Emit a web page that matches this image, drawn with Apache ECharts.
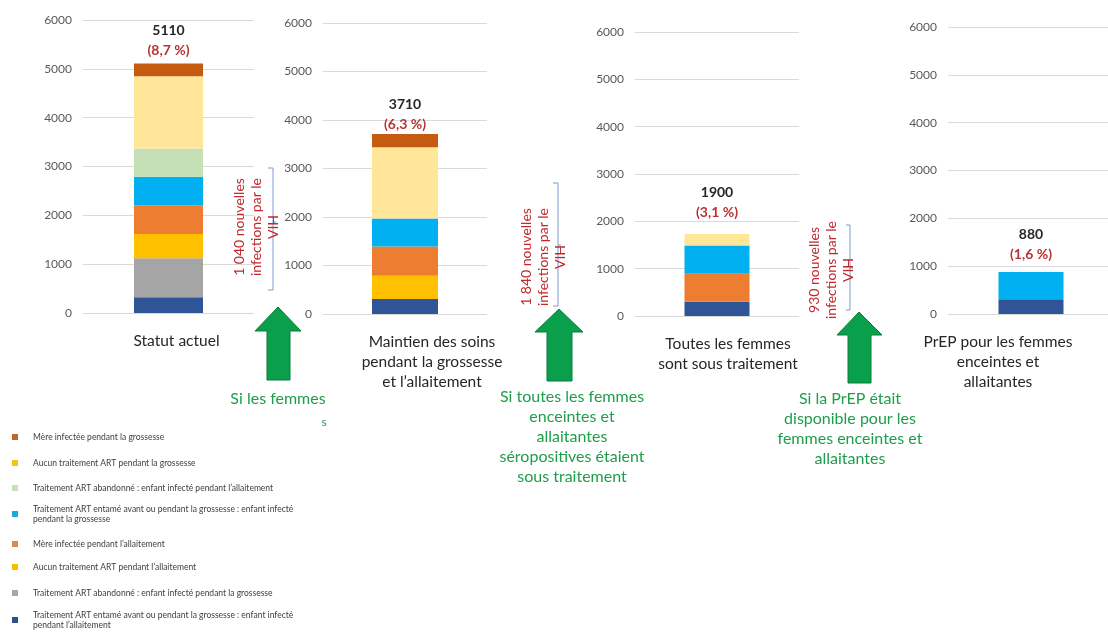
<!DOCTYPE html>
<html><head><meta charset="utf-8">
<script src="https://cdn.jsdelivr.net/npm/echarts@6/dist/echarts.min.js"></script>
<style>html,body{margin:0;padding:0;background:#fff}#c{width:1108px;height:635px}</style>
</head><body><div id="c"></div>
<script>
// ---- Data ----
const categories = [
  'Statut actuel',
  'Maintien des soins\npendant la grossesse\net l\u2019allaitement',
  'Toutes les femmes\nsont sous traitement',
  'PrEP pour les femmes\nenceintes et\nallaitantes'
];
const seriesNames = [
  'M\u00e8re infect\u00e9e pendant la grossesse',
  'Aucun traitement ART pendant la grossesse',
  'Traitement ART abandonn\u00e9 : enfant infect\u00e9 pendant l\u2019allaitement',
  'Traitement ART entam\u00e9 avant ou pendant la grossesse : enfant infect\u00e9 pendant la grossesse',
  'M\u00e8re infect\u00e9e pendant l\u2019allaitement',
  'Aucun traitement ART pendant l\u2019allaitement',
  'Traitement ART abandonn\u00e9 : enfant infect\u00e9 pendant la grossesse',
  'Traitement ART entam\u00e9 avant ou pendant la grossesse : enfant infect\u00e9 pendant l\u2019allaitement'
];
// values per scenario (Statut actuel, Maintien, Toutes sous traitement, PrEP)
const mereGrossesse      = [260, 270, 0, 0];
const aucunArtGrossesse  = [1480, 1470, 240, 0];
const abandonAllait      = [580, 0, 0, 0];
const entameGrossesse    = [590, 580, 600, 570];
const mereAllait         = [580, 600, 590, 0];
const aucunArtAllait     = [500, 480, 0, 0];
const abandonGrossesse   = [800, 0, 0, 0];
const entameAllait       = [320, 310, 300, 310];
const seriesValues = [mereGrossesse, aucunArtGrossesse, abandonAllait, entameGrossesse,
                      mereAllait, aucunArtAllait, abandonGrossesse, entameAllait];
const totalLabels = ['5110', '3710', '1900', '880'];
const pctLabels = ['(8,7 %)', '(6,3 %)', '(3,1 %)', '(1,6 %)'];
const yMin = 0, yMax = 6000, yInterval = 1000;
const annotations = [
  '1 040 nouvelles\ninfections par le\nVIH',
  '1 840 nouvelles\ninfections par le\nVIH',
  '930 nouvelles\ninfections par le\nVIH'
];
const scenarioTexts = [
  'Si les femmes',
  'Si toutes les femmes\nenceintes et\nallaitantes\ns\u00e9ropositives \u00e9taient\nsous traitement',
  'Si la PrEP \u00e9tait\ndisponible pour les\nfemmes enceintes et\nallaitantes'
];

// ---- Styles / layout ----
const FONT = 'Lato';
const colors = ['#C55A11', '#FFE699', '#C5E0B4', '#00B0F0', '#ED7D31', '#FFC000', '#A5A5A5', '#2F5597'];
const legendColors = ['#C0662A', '#F0C419', '#C5E0B4', '#1EA8E0', '#E08A4A', '#F2C200', '#A6A6A6', '#2F4F8F'];
const grids = [
  {left: 83, width: 171, top: 20, height: 293, outerBoundsMode: 'none', containLabel: false},
  {left: 323, width: 164, top: 23, height: 291, outerBoundsMode: 'none', containLabel: false},
  {left: 635, width: 164, top: 32, height: 284, outerBoundsMode: 'none', containLabel: false},
  {left: 948, width: 166, top: 27, height: 287, outerBoundsMode: 'none', containLabel: false}
];
const barWidths = [69, 66, 65, 65];
const catOffsets = [8, 27, 11, -33];
const labelDist = [3, 0, 12, 7];
const legendTops = [432, 458, 483, 499, 539, 562, 588, 605];
const legendWrap = {};
legendWrap[seriesNames[3]] = 'Traitement ART entam\u00e9 avant ou pendant la grossesse : enfant infect\u00e9\npendant la grossesse';
legendWrap[seriesNames[7]] = 'Traitement ART entam\u00e9 avant ou pendant la grossesse : enfant infect\u00e9\npendant l\u2019allaitement';

const xAxes = [], yAxes = [], series = [];
grids.forEach((g, p) => {
  const off = catOffsets[p];
  xAxes.push({
    gridIndex: p, type: 'category', data: [categories[p]],
    axisLine: {show: false}, axisTick: {show: false},
    axisLabel: {interval: 0, color: '#262626', fontSize: 15.5, lineHeight: 20, margin: 18, fontFamily: FONT,
      padding: off >= 0 ? [0, 0, 0, 2 * off] : [0, -2 * off, 0, 0]}
  });
  yAxes.push({
    gridIndex: p, type: 'value', min: yMin, max: yMax, interval: yInterval,
    axisLine: {show: false}, axisTick: {show: false},
    axisLabel: {color: '#595959', fontSize: 12, margin: 11, fontFamily: FONT, formatter: v => String(v)},
    splitLine: {lineStyle: {color: '#D9D9D9', width: 1}}
  });
  let top = -1;
  for (let s = 0; s < seriesValues.length; s++) { if (seriesValues[s][p] > 0) { top = s; break; } }
  for (let s = seriesValues.length - 1; s >= 0; s--) {
    const ser = {
      type: 'bar', name: seriesNames[s], xAxisIndex: p, yAxisIndex: p, stack: 'p' + p,
      barWidth: barWidths[p], itemStyle: {color: colors[s]},
      data: [seriesValues[s][p]], emphasis: {disabled: true}
    };
    if (s === top) {
      ser.label = {
        show: true, position: 'top', distance: labelDist[p],
        formatter: '{a|' + totalLabels[p] + '}\n{b|' + pctLabels[p] + '}',
        rich: {
          a: {fontSize: 14, fontWeight: 'bold', color: '#262626', lineHeight: 20, fontFamily: FONT},
          b: {fontSize: 14, fontWeight: 'bold', color: '#B83232', lineHeight: 20, fontFamily: FONT}
        }
      };
    }
    series.push(ser);
  }
});

const legends = seriesNames.map((n, i) => {
  const two = !!legendWrap[n];
  return {
    data: [{name: n, itemStyle: {color: legendColors[i]}}],
    left: 12, top: legendTops[i], orient: 'vertical', padding: 0,
    itemWidth: 6, itemHeight: 6, icon: 'rect', selectedMode: false,
    formatter: name => legendWrap[name] || name,
    textStyle: {fontSize: 8.5, color: '#404040', fontFamily: FONT, lineHeight: 10,
      padding: two ? [10, 0, 0, 10] : [0, 0, 0, 10]}
  };
});

// ---- Annotations (graphic) ----
const green = '#1E9E4A';
function arrow(tipX, tipY, headL, headR, baseY, shL, shR, bottom) {
  return {type: 'polygon', shape: {points: [[tipX, tipY], [headR, baseY], [shR, baseY], [shR, bottom], [shL, bottom], [shL, baseY], [headL, baseY]]},
    style: {fill: '#0AA04B', stroke: '#0B7D3B', lineWidth: 1}};
}
function bracket(x, y1, y2, tick, nubY) {
  return [
    {type: 'polyline', shape: {points: [[x - tick, y1], [x, y1], [x, y2], [x - tick, y2]]}, style: {stroke: '#7F9BD1', lineWidth: 1, fill: null}},
    {type: 'polyline', shape: {points: [[x, nubY], [x + 3, nubY]]}, style: {stroke: '#7F9BD1', lineWidth: 1, fill: null}}
  ];
}
function vtext(txt, x, y) {
  return {type: 'text', x: x, y: y, rotation: Math.PI / 2, z: 10,
    style: {text: txt, fill: '#C0282D', fontSize: 14, fontFamily: FONT, lineHeight: 17, align: 'center', verticalAlign: 'middle'}};
}
function gtext(txt, x, y, size) {
  return {type: 'text', x: x, y: y, z: 10,
    style: {text: txt, fill: green, fontSize: size || 16, fontFamily: FONT, lineHeight: 20, align: 'center', verticalAlign: 'top'}};
}
const graphics = [
  arrow(278, 307, 255, 301, 331, 267, 290, 380),
  arrow(559, 309, 535, 583, 332, 547, 572, 381),
  arrow(859, 312, 837, 882, 335, 848, 871, 383),
  ...bracket(273, 168, 290, 5, 222),
  ...bracket(558, 183, 306, 5, 245),
  ...bracket(850, 225, 310, 4, 268),
  vtext(annotations[0], 256, 227),
  vtext(annotations[1], 543, 257),
  vtext(annotations[2], 831, 270),
  gtext(scenarioTexts[0], 278, 389),
  gtext('s', 324, 412, 12),
  gtext(scenarioTexts[1], 572, 387),
  gtext(scenarioTexts[2], 850, 389)
];

const chart = echarts.init(document.getElementById('c'), null, {renderer: 'canvas'});
chart.setOption({
  animation: false,
  backgroundColor: '#ffffff',
  textStyle: {fontFamily: FONT},
  grid: grids,
  xAxis: xAxes,
  yAxis: yAxes,
  legend: legends,
  series: series,
  graphic: graphics
});
</script></body></html>
